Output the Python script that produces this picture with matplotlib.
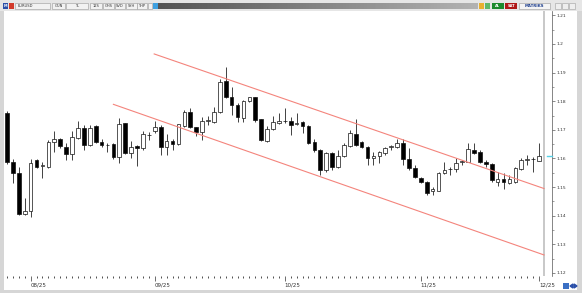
import numpy as np
import matplotlib
matplotlib.use("Agg")
import matplotlib.pyplot as plt
from matplotlib.patches import Rectangle, Polygon

# EURUSD daily candles, 28.07.2025 -> 01.12.2025
opens = [1.1758, 1.1587, 1.1548, 1.1405, 1.1418, 1.1595, 1.1573, 1.1571, 1.1659, 1.1667,
         1.1639, 1.1615, 1.1673, 1.1706, 1.1647, 1.1714, 1.1659, 1.1647, 1.1650, 1.1604,
         1.1723, 1.1620, 1.1644, 1.1638, 1.1681, 1.1696, 1.1709, 1.1641, 1.1661, 1.1651,
         1.1714, 1.1762, 1.1709, 1.1694, 1.1731, 1.1729, 1.1761, 1.1871, 1.1814, 1.1787,
         1.1740, 1.1802, 1.1814, 1.1737, 1.1662, 1.1703, 1.1725, 1.1730, 1.1731, 1.1722,
         1.1729, 1.1714, 1.1659, 1.1630, 1.1560, 1.1618, 1.1569, 1.1609, 1.1644, 1.1686,
         1.1659, 1.1641, 1.1600, 1.1607, 1.1618, 1.1640, 1.1641, 1.1653, 1.1597, 1.1566,
         1.1531, 1.1519, 1.1485, 1.1487, 1.1549, 1.1562, 1.1562, 1.1588, 1.1589, 1.1630,
         1.1624, 1.1589, 1.1581, 1.1519, 1.1527, 1.1516, 1.1519, 1.1562, 1.1594, 1.1597,
         1.1592]
highs = [1.1767, 1.1599, 1.1571, 1.1462, 1.1598, 1.1598, 1.1589, 1.1665, 1.1697, 1.1672,
         1.1655, 1.1697, 1.1731, 1.1717, 1.1717, 1.1716, 1.1667, 1.1655, 1.1655, 1.1740,
         1.1725, 1.1662, 1.1647, 1.1696, 1.1693, 1.1731, 1.1717, 1.1686, 1.1667, 1.1721,
         1.1769, 1.1776, 1.1711, 1.1746, 1.1749, 1.1779, 1.1877, 1.1921, 1.1849, 1.1795,
         1.1804, 1.1816, 1.1816, 1.1739, 1.1714, 1.1749, 1.1758, 1.1775, 1.1746, 1.1758,
         1.1731, 1.1716, 1.1667, 1.1632, 1.1624, 1.1624, 1.1630, 1.1653, 1.1700, 1.1739,
         1.1662, 1.1644, 1.1624, 1.1627, 1.1641, 1.1647, 1.1667, 1.1667, 1.1636, 1.1577,
         1.1536, 1.1521, 1.1500, 1.1551, 1.1589, 1.1571, 1.1601, 1.1595, 1.1655, 1.1653,
         1.1630, 1.1595, 1.1583, 1.1551, 1.1549, 1.1542, 1.1571, 1.1601, 1.1612, 1.1606,
         1.1653]
lows = [1.1582, 1.1516, 1.1402, 1.1402, 1.1395, 1.1567, 1.1531, 1.1567, 1.1624, 1.1636,
        1.1595, 1.1595, 1.1667, 1.1630, 1.1644, 1.1653, 1.1639, 1.1624, 1.1598, 1.1583,
        1.1616, 1.1601, 1.1574, 1.1630, 1.1665, 1.1690, 1.1612, 1.1612, 1.1630, 1.1647,
        1.1711, 1.1706, 1.1678, 1.1665, 1.1717, 1.1725, 1.1759, 1.1810, 1.1752, 1.1729,
        1.1729, 1.1798, 1.1729, 1.1662, 1.1659, 1.1700, 1.1721, 1.1723, 1.1682, 1.1717,
        1.1688, 1.1651, 1.1624, 1.1542, 1.1554, 1.1560, 1.1566, 1.1604, 1.1641, 1.1644,
        1.1637, 1.1577, 1.1577, 1.1583, 1.1612, 1.1630, 1.1636, 1.1577, 1.1560, 1.1531,
        1.1514, 1.1473, 1.1473, 1.1485, 1.1546, 1.1542, 1.1554, 1.1577, 1.1588, 1.1616,
        1.1583, 1.1571, 1.1519, 1.1504, 1.1493, 1.1511, 1.1514, 1.1560, 1.1577, 1.1554,
        1.1592]
closes = [1.1587, 1.1548, 1.1405, 1.1417, 1.1583, 1.1571, 1.1575, 1.1659, 1.1667, 1.1644,
          1.1615, 1.1676, 1.1706, 1.1647, 1.1706, 1.1659, 1.1647, 1.1646, 1.1604, 1.1720,
          1.1618, 1.1639, 1.1638, 1.1685, 1.1682, 1.1709, 1.1639, 1.1661, 1.1651, 1.1720,
          1.1762, 1.1709, 1.1694, 1.1732, 1.1732, 1.1764, 1.1868, 1.1816, 1.1787, 1.1746,
          1.1802, 1.1814, 1.1735, 1.1665, 1.1703, 1.1727, 1.1732, 1.1731, 1.1717, 1.1724,
          1.1714, 1.1655, 1.1630, 1.1560, 1.1618, 1.1569, 1.1609, 1.1647, 1.1688, 1.1647,
          1.1641, 1.1601, 1.1607, 1.1621, 1.1636, 1.1641, 1.1653, 1.1597, 1.1566, 1.1536,
          1.1519, 1.1481, 1.1493, 1.1549, 1.1560, 1.1563, 1.1583, 1.1589, 1.1632, 1.1618,
          1.1589, 1.1581, 1.1525, 1.1527, 1.1519, 1.1527, 1.1566, 1.1595, 1.1595, 1.1597,
          1.1609]

month_idx = [4, 25, 47, 70, 90]
month_lbl = ["08/25", "09/25", "10/25", "11/25", "12/25"]
price_ticks = [1.12, 1.13, 1.14, 1.15, 1.16, 1.17, 1.18, 1.19, 1.2, 1.21]
price_lbl = ["1.12", "1.13", "1.14", "1.15", "1.16", "1.17", "1.18", "1.19", "1.2", "1.21"]

# channel lines drawn on the chart: (candle index, price)
upper_x = [24.9, 90.85]
upper_y = [1.1965, 1.1495]
lower_x = [18.0, 90.85]
lower_y = [1.1789, 1.1263]

W, H = 582, 293
fig = plt.figure(figsize=(W / 100, H / 100), dpi=100)
fig.patch.set_facecolor("#d6d6d6")


def rect(x0, y0, x1, y1, z=2, **kw):
    # pixel box, origin top-left
    r = Rectangle((x0 / W, 1 - y1 / H), (x1 - x0) / W, (y1 - y0) / H,
                  transform=fig.transFigure, zorder=z, **kw)
    fig.add_artist(r)
    return r


def label(x, y, s, **kw):
    fig.text(x / W, 1 - y / H, s, va="center", zorder=3, **kw)


# white chart panel and toolbar background (behind the axes)
rect(4, 11, 577, 290, z=-2, facecolor="white", edgecolor="none")
rect(0, 0, W, 11, z=-2, facecolor="#e6e6e6", edgecolor="none")

# toolbar
rect(3, 3, 8, 9, facecolor="#2a4fa8", edgecolor="none")
label(5.5, 6, "M", fontsize=2.5, color="white", ha="center", weight="bold")
rect(8.5, 3, 14, 9, facecolor="#d23a2a", edgecolor="none")
for x0, x1, s in [(15, 50, "EURUSD"), (52, 65, "GUN"), (66, 88, "TL"),
                  (90, 102, "12S"), (103, 114, "GHS"), (115, 125, "SVD"),
                  (126, 137, "SYH"), (137, 147, "THP")]:
    rect(x0, 3, x1, 9, facecolor="#f2f2f2", edgecolor="#9a9a9a", linewidth=0.4)
    label((x0 + x1) / 2 if s != "EURUSD" else 18, 6, s, fontsize=2.6, color="#333333",
          ha="center" if s != "EURUSD" else "left")
rect(148, 3, 152.5, 9, facecolor="#f2f2f2", edgecolor="#9a9a9a", linewidth=0.4)
rect(153, 3, 158, 9, facecolor="#3fa0e0", edgecolor="none")

gax = fig.add_axes([158 / W, 1 - 9 / H, (478 - 158) / W, 6.5 / H])
gax.imshow(np.linspace(0.33, 0.7, 200)[None, :], aspect="auto", cmap="gray", vmin=0, vmax=1)
gax.axis("off")

rect(479, 3, 484, 9, facecolor="#e8b030", edgecolor="none")
rect(485, 3, 490, 9, facecolor="#5fb86a", edgecolor="none")
rect(492, 3, 504, 9, facecolor="#1d8a2e", edgecolor="none")
label(498, 6, "AL", fontsize=2.6, color="white", ha="center", weight="bold")
rect(505, 3, 517, 9, facecolor="#b01818", edgecolor="none")
label(511, 6, "SAT", fontsize=2.6, color="white", ha="center", weight="bold")
rect(519, 3, 550, 9, facecolor="#f4f4f4", edgecolor="#9a9a9a", linewidth=0.4)
label(534.5, 6, "MATRIKS", fontsize=2.8, color="#1b3c8c", ha="center", weight="bold")
for x0 in [555, 562, 569]:
    rect(x0, 3, x0 + 6, 9, facecolor="#eeeeee", edgecolor="#a0a0a0", linewidth=0.4)

# bottom-right icons
rect(563, 283, 569, 289, facecolor="#3a6fc4", edgecolor="none")
fig.add_artist(Polygon([(570 / W, 1 - 286 / H), (573 / W, 1 - 284 / H), (573 / W, 1 - 288 / H)],
                       closed=True, transform=fig.transFigure, color="#2a4fa8"))
fig.add_artist(Polygon([(577 / W, 1 - 286 / H), (574 / W, 1 - 284 / H), (574 / W, 1 - 288 / H)],
                       closed=True, transform=fig.transFigure, color="#2a4fa8"))

# main price axes
ax = fig.add_axes([5 / W, 1 - 276 / H, (552 - 5) / W, (276 - 11) / H])
ax.set_facecolor("white")
ax.set_xlim(-0.34, 92.2)
ax.set_ylim(1.11895, 1.2115)

x = np.arange(len(opens))
o = np.array(opens)
c = np.array(closes)
up = c >= o
bottom = np.minimum(o, c)
height = np.maximum(np.abs(c - o), 0.00025)

ax.vlines(x, lows, highs, color="#222222", linewidth=0.6, zorder=2)
ax.bar(x, height, bottom=bottom, width=0.62,
       color=np.where(up, "white", "black"), edgecolor="#111111",
       linewidth=0.5, zorder=3)

ax.plot(upper_x, upper_y, color="#f4847c", linewidth=0.8, zorder=4)
ax.plot(lower_x, lower_y, color="#f4847c", linewidth=0.8, zorder=4)

# separator strip and last-price marker
ax.axvspan(90.63, 91.1, color="#c9c9c9", zorder=1, linewidth=0)
ax.plot([91.4, 92.2], [closes[-1], closes[-1]], color="#55d0e6", linewidth=1.0,
        clip_on=False, zorder=5)

for s in ["top", "left", "bottom"]:
    ax.spines[s].set_visible(False)
ax.spines["right"].set_color("#555555")
ax.spines["right"].set_linewidth(0.5)

ax.yaxis.tick_right()
ax.set_yticks(price_ticks, price_lbl)
ax.set_yticks([t + 0.005 for t in price_ticks[:-1]], minor=True)
ax.tick_params(axis="y", which="major", length=2, width=0.4, pad=1,
               labelsize=3.2, colors="#333333")
ax.tick_params(axis="y", which="minor", length=1.2, width=0.4, color="#555555")

ax.set_xticks(month_idx, month_lbl)
ax.set_xticks(x, minor=True)
ax.tick_params(axis="x", which="major", length=3.5, width=0.5, pad=1.5,
               labelsize=4, colors="#333333")
ax.tick_params(axis="x", which="minor", length=1.5, width=0.6, color="#333333")
for t in ax.get_xticklabels():
    t.set_horizontalalignment("left")

fig.savefig("out.png", dpi=100, facecolor=fig.get_facecolor())
